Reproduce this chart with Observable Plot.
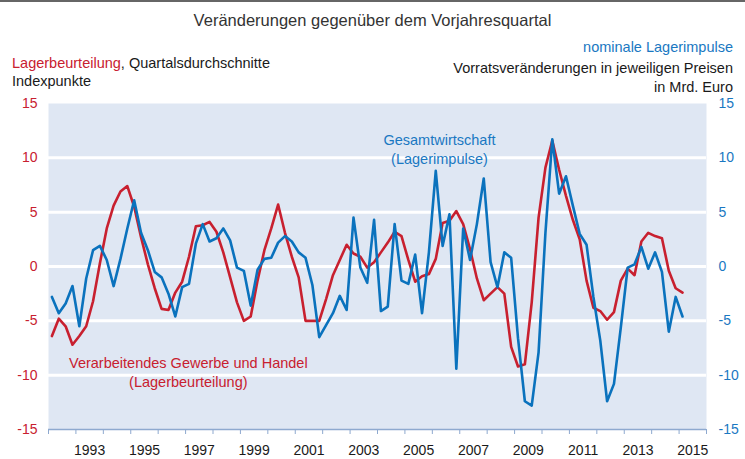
<!DOCTYPE html>
<html>
<head>
<meta charset="utf-8">
<script src="https://cdn.jsdelivr.net/npm/d3@7"></script>
<script src="https://cdn.jsdelivr.net/npm/@observablehq/plot@0.6"></script>
<style>
  html, body { margin: 0; padding: 0; background: #fff; }
  #wrap { position: relative; width: 745px; height: 459px; overflow: hidden; font-family: "Liberation Sans", Arial, sans-serif; }
  #wrap svg { position: absolute; left: 0; top: 0; }
  .t { position: absolute; white-space: nowrap; color: #1a1a1a; font-size: 14.5px; line-height: 1; }
</style>
</head>
<body>
<div id="wrap">
  <div style="position:absolute;left:0;top:0;width:745px;height:2px;background:#666;"></div>
  <div class="t" style="left:0;width:745px;text-align:center;top:12px;font-size:16.5px;color:#333;">Veränderungen gegenüber dem Vorjahresquartal</div>
  <div class="t" style="left:12px;top:56px;"><span style="color:#c8202f">Lagerbeurteilung</span>, Quartalsdurchschnitte</div>
  <div class="t" style="left:12px;top:74px;">Indexpunkte</div>
  <div class="t" style="right:12px;top:40px;color:#1a78c2;text-align:right;">nominale Lagerimpulse</div>
  <div class="t" style="right:12px;top:61px;text-align:right;">Vorratsveränderungen in jeweiligen Preisen</div>
  <div class="t" style="right:12px;top:80px;text-align:right;">in Mrd. Euro</div>
</div>
<script>
// Quarterly series, 1992 Q1 – 2015 Q1
const startYear = 1992;
const lagerbeurteilung = [
  -6.4, -4.8, -5.5, -7.2,   // 1992
  -6.4, -5.5, -3.2,  0.3,   // 1993
   3.5,  5.6,  6.9,  7.4,   // 1994
   5.5,  2.7,  0.2, -2.0,   // 1995
  -3.9, -4.0, -2.4, -1.4,   // 1996
   0.9,  3.7,  3.8,  4.1,   // 1997
   3.2,  1.3, -1.0, -3.3,   // 1998
  -5.0, -4.6, -1.3,  1.5,   // 1999
   3.5,  5.7,  3.1,  0.9,   // 2000
  -1.0, -5.0, -5.0, -5.0,   // 2001
  -3.0, -0.8,  0.6,  2.0,   // 2002
   1.2,  0.9, -0.1,  0.4,   // 2003
   1.3,  2.2,  3.2,  2.8,   // 2004
   0.6, -1.4, -0.9, -0.7,   // 2005
   0.7,  4.0,  4.2,  5.1,   // 2006
   3.9,  1.6, -1.1, -3.1,   // 2007
  -2.5, -1.9, -2.5, -7.4,   // 2008
  -9.2, -9.0, -3.3,  4.5,   // 2009
   9.1, 11.6,  8.9,  6.5,   // 2010
   4.3,  2.5, -1.3, -3.8,   // 2011
  -4.1, -4.9, -4.2, -1.3,   // 2012
  -0.2, -0.8,  2.3,  3.1,   // 2013
   2.8,  2.6, -0.4, -2.0,   // 2014
  -2.4                      // 2015
];
const lagerimpulse = [
  -2.8, -4.3, -3.4, -1.8,   // 1992
  -5.5, -1.1,  1.5,  1.9,   // 1993
   0.6, -1.8,  0.7,  3.5,   // 1994
   6.1,  3.1,  1.5, -0.5,   // 1995
  -1.0, -2.5, -4.6, -1.9,   // 1996
  -1.6,  2.1,  3.9,  2.3,   // 1997
   2.6,  3.5,  2.4, -0.1,   // 1998
  -0.4, -3.6, -0.3,  0.7,   // 1999
   0.8,  2.2,  2.8,  2.3,   // 2000
   1.3,  0.8, -1.7, -6.5,   // 2001
  -5.4, -4.3, -2.7, -4.0,   // 2002
   4.5, -0.1, -1.5,  4.3,   // 2003
  -4.1, -3.7,  3.9, -1.3,   // 2004
  -1.6,  1.1, -4.3,  1.3,   // 2005
   8.8,  1.9,  4.8, -9.4,   // 2006
   3.5,  0.6,  3.9,  8.1,   // 2007
   0.4, -1.9,  1.3,  0.8,   // 2008
  -6.6, -12.4, -12.8, -7.9, // 2009
   3.1, 11.7,  6.7,  8.3,   // 2010
   5.6,  3.0,  2.0, -2.8,   // 2011
  -6.8, -12.4, -10.8, -5.6, // 2012
  -0.1,  0.2,  1.8, -0.2,   // 2013
   1.3, -0.5, -6.0, -2.8,   // 2014
  -4.6                      // 2015
];
const yTicks = [-15, -10, -5, 0, 5, 10, 15];
const gridValues = [-10, -5, 0, 5, 10];
const yearTicks = d3.range(1992, 2017);
const yearLabels = [1993, 1995, 1997, 1999, 2001, 2003, 2005, 2007, 2009, 2011, 2013, 2015];

const RED = "#c8202f";
const BLUE = "#0a72bd";
const toRows = (arr) => arr.map((v, i) => ({t: startYear + i * 0.25 + 0.125, v}));

const chart = Plot.plot({
  width: 745,
  height: 459,
  marginTop: 103,
  marginBottom: 30,
  marginLeft: 48,
  marginRight: 39,
  style: {fontFamily: "'Liberation Sans', Arial, sans-serif", fontSize: "14px", background: "transparent", overflow: "visible"},
  x: {domain: [1992, 2016]},
  y: {domain: [-15, 15]},
  marks: [
    Plot.frame({fill: "#dfe7f3", stroke: "none"}),
    Plot.ruleY(gridValues, {stroke: "white", strokeWidth: 3}),
    Plot.ruleY([-15], {stroke: "#8ea9cf", strokeWidth: 1.5}),
    Plot.axisX({ticks: yearTicks, tickSize: 5, tickFormat: () => "", stroke: "#8ea9cf", label: null}),
    Plot.axisX({ticks: yearLabels.map(y => y + 0.5), tickSize: 0, tickPadding: 16, tickFormat: d => String(Math.floor(d)), fill: "#1a1a1a", label: null}),
    Plot.axisY({anchor: "left", ticks: yTicks, tickSize: 0, tickPadding: 11, tickFormat: d => String(d), fill: RED, label: null}),
    Plot.axisY({anchor: "right", ticks: yTicks, tickSize: 0, tickPadding: 12, tickFormat: d => String(d), fill: "#1a78c2", label: null}),
    Plot.line(toRows(lagerbeurteilung), {x: "t", y: "v", stroke: RED, strokeWidth: 2.6}),
    Plot.line(toRows(lagerimpulse), {x: "t", y: "v", stroke: BLUE, strokeWidth: 2.6}),
    Plot.text(["Gesamtwirtschaft"], {x: 2006.26, y: 11.65, text: d => d, fill: "#1a78c2", fontSize: 14.5}),
    Plot.text(["(Lagerimpulse)"], {x: 2006.26, y: 9.9, text: d => d, fill: "#1a78c2", fontSize: 14.5}),
    Plot.text(["Verarbeitendes Gewerbe und Handel"], {x: 1997.1, y: -8.9, text: d => d, fill: RED, fontSize: 14.5}),
    Plot.text(["(Lagerbeurteilung)"], {x: 1997.1, y: -10.65, text: d => d, fill: RED, fontSize: 14.5})
  ]
});
document.getElementById("wrap").prepend(chart);
</script>
</body>
</html>
